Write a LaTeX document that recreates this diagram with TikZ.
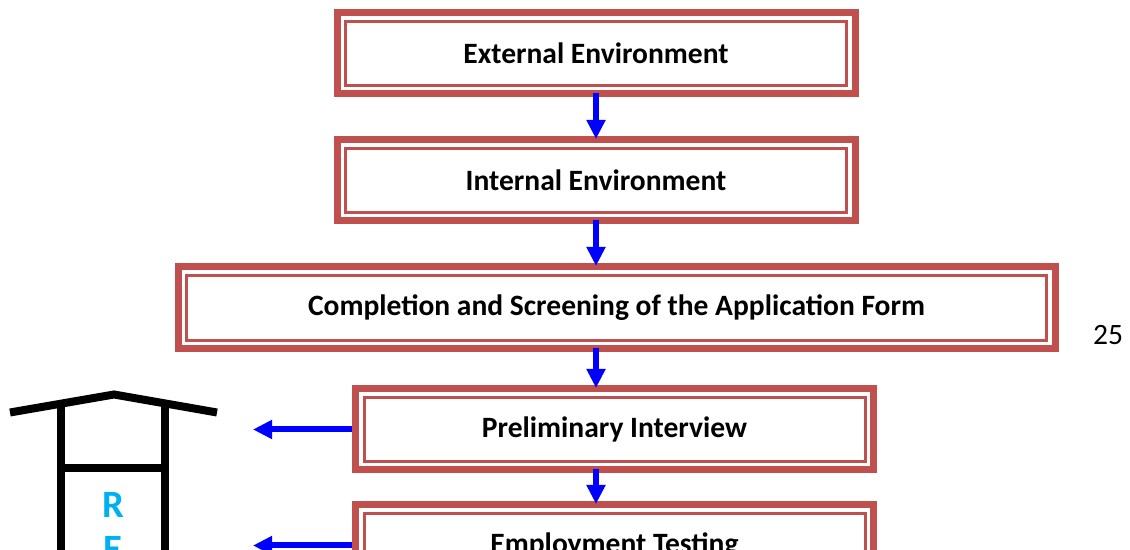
\documentclass[tikz,border=0pt]{standalone}
\usepackage{fontspec}
\setmainfont{Carlito}
\usepackage{tikz}
\usetikzlibrary{arrows.meta}
\definecolor{boxred}{HTML}{C0504D}
\definecolor{letterblue}{HTML}{00B0F0}
\tikzset{>={Triangle[length=0.38cm,width=0.36cm]}}

\begin{document}
\begin{tikzpicture}[
  stage/.style={rectangle, draw=boxred, line width=0.06cm, inner sep=0pt,
    minimum width=10.02cm, minimum height=1.28cm,
    font=\fontsize{16.8}{19}\selectfont\bfseries},
  frame/.style={draw=boxred, line width=0.14cm},
  flow/.style={->, blue, line width=0.12cm, shorten <=0.12cm, shorten >=0.16cm},
  side/.style={->, blue, line width=0.12cm, shorten <=0.21cm},
  wall/.style={line width=0.16cm},
  letter/.style={text=letterblue, font=\fontsize{22}{26}\selectfont\bfseries}
]
  \clip (0,0) rectangle (22.6,11);

  % Stages
  \node[stage] (ext) at (11.92, 9.93) {External Environment};
  \node[stage] (int) at (11.92, 7.39) {Internal Environment};
  \node[stage, minimum width=17.2cm, minimum height=1.3cm] (app) at (12.33, 4.84) {Completion and Screening of the Application Form};
  \node[stage] (pre) at (12.29, 2.41) {Preliminary Interview};
  \node[stage] (emp) at (12.29, 0.09) {Employment Testing};

  % Thick outer frames
  \foreach \n in {ext, int, app, pre, emp}
    \draw[frame] ([shift={(-0.14,0.14)}]\n.north west) rectangle ([shift={(0.14,-0.14)}]\n.south east);

  % Flow between stages
  \draw[flow] (ext.south) -- (int.north);
  \draw[flow] (int.south) -- (int.south |- app.north);
  \draw[flow] (app.south -| int.south) -- (pre.north -| int.south);
  \draw[flow] (pre.south -| int.south) -- (emp.north -| int.south);

  % Arrows to the left
  \coordinate (tip) at (5.06, 0);
  \draw[side] (pre.west) -- (pre.west -| tip);
  \draw[side] (emp.west) -- (emp.west -| tip);

  % Roof and walls
  \draw[wall, line join=miter] (0.2,2.75) -- (2.28,3.11) -- (4.34,2.75);
  \draw[wall] (1.22,2.9) -- (1.22,-0.2);
  \draw[wall] (3.3,2.9) -- (3.3,-0.2);
  \draw[wall] (1.14,1.64) -- (3.38,1.64);
  \node[letter] (r) at (2.26, 0.9) {R};
  \node[letter] (e) at (2.26, 0.03) {E};

  \node[font=\fontsize{16.8}{19}\selectfont] (page) at (22.16, 4.30) {25};
\end{tikzpicture}
\end{document}
